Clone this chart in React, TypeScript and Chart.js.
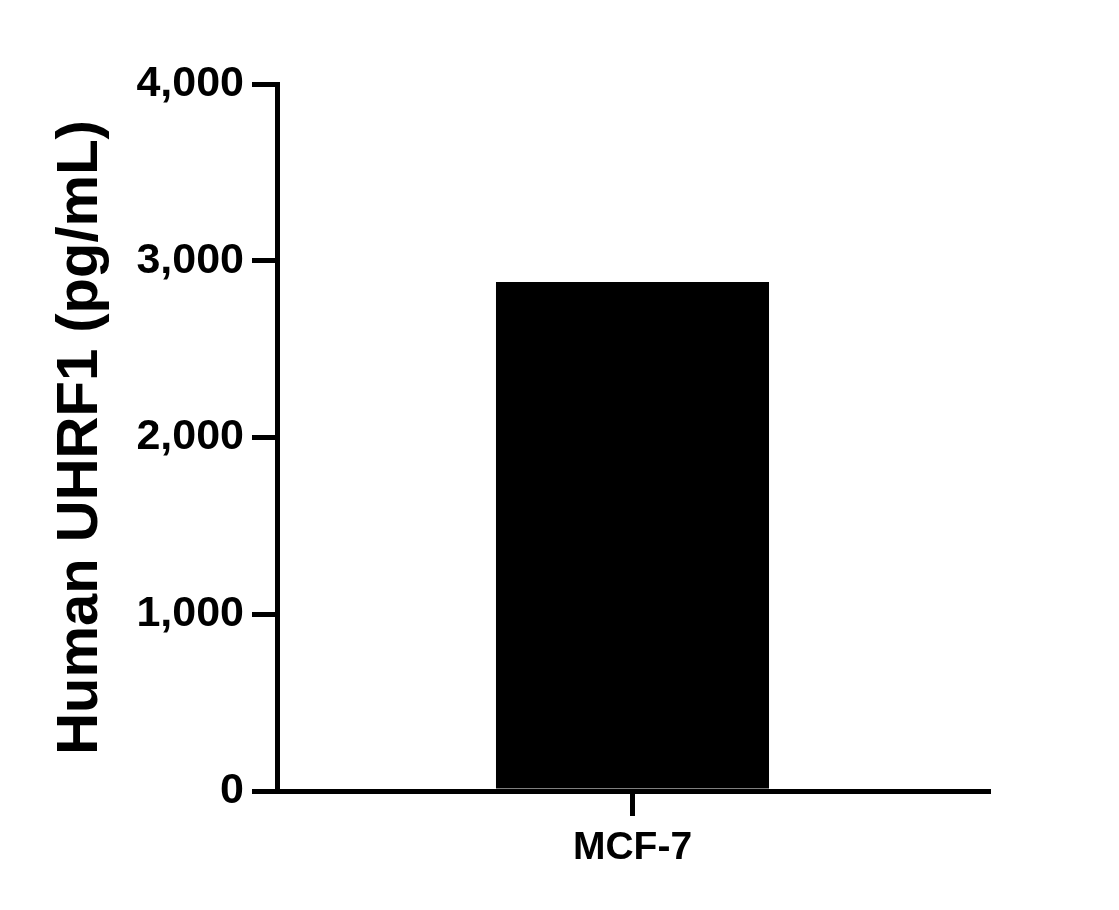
import React, { useEffect, useRef } from "react";
import { Chart, registerables } from "chart.js";

Chart.register(...registerables);

const categories: string[] = ["MCF-7"];
const values: number[] = [2880];
const yTicks: number[] = [0, 1000, 2000, 3000, 4000];
const yTitle = "Human UHRF1 (pg/mL)";

const FONT = "'Liberation Sans', Arial, Helvetica, sans-serif";

export default function App() {
  const ref = useRef<HTMLCanvasElement | null>(null);

  useEffect(() => {
    document.body.style.margin = "0";
    const canvas = ref.current;
    if (!canvas) return;
    const chart = new Chart(canvas, {
      type: "bar",
      data: {
        labels: categories,
        datasets: [
          {
            data: values,
            backgroundColor: "#000000",
            borderWidth: 0,
            barPercentage: 0.384,
            categoryPercentage: 1,
          },
        ],
      },
      options: {
        animation: false,
        responsive: true,
        maintainAspectRatio: false,
        layout: { padding: { top: 84, right: 131, bottom: 0, left: 0 } },
        plugins: { legend: { display: false }, tooltip: { enabled: false } },
        scales: {
          x: {
            type: "category",
            offset: true,
            border: { display: true, width: 5, color: "#000" },
            grid: {
              offset: false,
              drawOnChartArea: false,
              drawTicks: true,
              tickLength: 25,
              tickWidth: 5,
              tickColor: "#000",
              color: "#000",
              lineWidth: 5,
            },
            ticks: {
              color: "#000",
              padding: 9,
              font: { family: FONT, size: 39, weight: "bold" },
            },
            afterFit: (scale: any) => {
              scale.height = 119;
            },
          },
          y: {
            min: 0,
            max: 4000,
            border: { display: true, width: 5, color: "#000" },
            grid: {
              drawOnChartArea: false,
              drawTicks: true,
              tickLength: 25,
              tickWidth: 5,
              tickColor: "#000",
              color: "#000",
              lineWidth: 5,
            },
            afterBuildTicks: (scale: any) => {
              scale.ticks = yTicks.map((v) => ({ value: v }));
            },
            ticks: {
              color: "#000",
              padding: 8,
              font: { family: FONT, size: 43, weight: "bold" },
              callback: (v: any) => Number(v).toLocaleString("en-US"),
            },
            title: {
              display: true,
              text: yTitle,
              color: "#000",
              padding: { top: 46, bottom: 0 },
              font: { family: FONT, size: 58, weight: "bold" },
            },
            afterFit: (scale: any) => {
              scale.width = 277;
            },
          },
        },
      },
    });
    return () => chart.destroy();
  }, []);

  return (
    <div style={{ position: "fixed", left: 0, top: 0, width: 1119, height: 910, background: "#fff" }}>
      <canvas ref={ref} />
    </div>
  );
}
